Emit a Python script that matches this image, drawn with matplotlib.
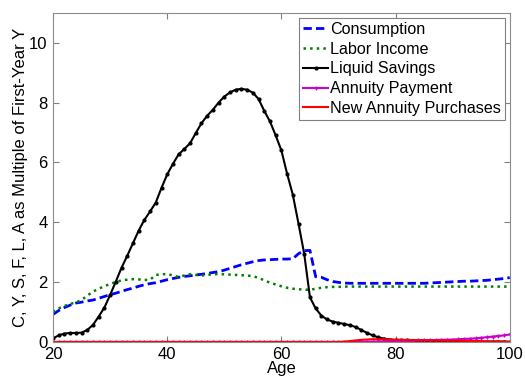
import numpy as np
import matplotlib
matplotlib.use('Agg')
import matplotlib.pyplot as plt

plt.rcParams['font.family'] = ['Liberation Sans', 'DejaVu Sans']

# 年龄 20 到 100，每年一个点
age = np.arange(20, 101)

consumption = [
    0.92, 1.05, 1.15, 1.23, 1.30, 1.33, 1.37, 1.40, 1.46, 1.52,
    1.58, 1.63, 1.69, 1.75, 1.80, 1.86, 1.91, 1.95, 1.98, 2.03,
    2.08, 2.12, 2.16, 2.19, 2.21, 2.24, 2.26, 2.29, 2.32, 2.35,
    2.40, 2.46, 2.52, 2.58, 2.63, 2.68, 2.72, 2.74, 2.75, 2.76,
    2.77, 2.77, 2.78, 2.95, 3.05, 3.06, 2.18, 2.16, 2.08, 2.02,
    1.99, 1.97, 1.96, 1.96, 1.96, 1.96, 1.96, 1.96, 1.96, 1.96,
    1.96, 1.96, 1.96, 1.96, 1.96, 1.96, 1.97, 1.98, 1.99, 2.00,
    2.01, 2.02, 2.03, 2.03, 2.04, 2.05, 2.06, 2.08, 2.10, 2.12,
    2.15]

labor_income = [
    1.00, 1.12, 1.20, 1.27, 1.32, 1.40, 1.55, 1.68, 1.78, 1.86,
    1.94, 2.00, 2.06, 2.08, 2.10, 2.09, 2.07, 2.08, 2.24, 2.26,
    2.27, 2.22, 2.17, 2.22, 2.26, 2.24, 2.22, 2.24, 2.26, 2.27,
    2.26, 2.25, 2.24, 2.23, 2.22, 2.20, 2.14, 2.06, 1.98, 1.92,
    1.86, 1.81, 1.78, 1.76, 1.75, 1.74, 1.78, 1.81, 1.83, 1.84,
    1.84, 1.85, 1.85, 1.85, 1.85, 1.85, 1.85, 1.85, 1.85, 1.85,
    1.85, 1.85, 1.85, 1.85, 1.85, 1.85, 1.85, 1.85, 1.85, 1.85,
    1.85, 1.85, 1.85, 1.85, 1.85, 1.85, 1.85, 1.85, 1.85, 1.85,
    1.85]

liquid_savings = [
    0.12, 0.22, 0.28, 0.30, 0.30, 0.31, 0.40, 0.57, 0.85, 1.15,
    1.57, 2.02, 2.48, 2.88, 3.30, 3.72, 4.08, 4.36, 4.66, 5.15,
    5.60, 5.95, 6.27, 6.45, 6.64, 6.98, 7.31, 7.56, 7.76, 8.00,
    8.20, 8.34, 8.43, 8.46, 8.43, 8.33, 8.12, 7.72, 7.37, 6.90,
    6.40, 5.62, 4.92, 3.95, 2.94, 1.49, 1.12, 0.88, 0.75, 0.68,
    0.64, 0.60, 0.56, 0.50, 0.40, 0.30, 0.22, 0.15, 0.11, 0.08,
    0.06, 0.05, 0.05, 0.04, 0.04, 0.04, 0.03, 0.03, 0.03, 0.03,
    0.02, 0.02, 0.02, 0.02, 0.02, 0.01, 0.01, 0.01, 0.01, 0.01,
    0.00]

annuity_payment = [0.0] * 55 + [
    0.005, 0.01, 0.015, 0.02, 0.025, 0.03, 0.035, 0.04, 0.045, 0.05,
    0.055, 0.06, 0.065, 0.07, 0.075, 0.08, 0.09, 0.10, 0.11, 0.12,
    0.14, 0.16, 0.18, 0.20, 0.22, 0.25]

new_annuity = [0.0] * 51 + [
    0.01, 0.03, 0.05, 0.07, 0.08, 0.09, 0.09, 0.09, 0.08, 0.08,
    0.07, 0.07, 0.06, 0.06, 0.06, 0.05, 0.05, 0.05, 0.04, 0.04,
    0.04, 0.03, 0.03, 0.03, 0.03, 0.02, 0.02, 0.02, 0.01, 0.01]

fig = plt.figure(figsize=(5.25, 3.77), dpi=100)
ax = fig.add_axes([0.101, 0.093, 0.870, 0.873])

ax.plot(age, consumption, '--', color='#0000ff', lw=2.0, dashes=(3, 1.5), label='Consumption')
ax.plot(age, labor_income, ':', color='#008000', lw=1.8, label='Labor Income')
ax.plot(age, liquid_savings, '-', color='black', lw=1.5, marker='.', markersize=4,
        label='Liquid Savings')
ax.plot(age, annuity_payment, '-', color='#cc00cc', lw=1.5, marker='+', markersize=3,
        label='Annuity Payment')
ax.plot(age, new_annuity, '-', color='#ff0000', lw=1.5, label='New Annuity Purchases')

ax.set_xlim(20, 100)
ax.set_ylim(0, 11)
ax.set_xticks([20, 40, 60, 80, 100])
ax.set_yticks([0, 2, 4, 6, 8, 10])
ax.tick_params(direction='in', top=True, right=True, labelsize=12, length=4,
               color='0.5')
ax.tick_params(axis='x', pad=4)
ax.tick_params(axis='y', pad=4)
for s in ax.spines.values():
    s.set_color('0.55')
    s.set_linewidth(0.8)

ax.set_xlabel('Age', fontsize=12, labelpad=-1)
ax.set_ylabel('C, Y, S, F, L, A as Multiple of First-Year Y', fontsize=12, labelpad=1)

leg = ax.legend(loc='upper right', fontsize=11.6, handlelength=1.6, handletextpad=0.1,
                labelspacing=0.3, borderpad=0.25, borderaxespad=0.3, fancybox=False,
                edgecolor='0.5', framealpha=1)
leg.get_frame().set_linewidth(0.8)

fig.savefig('out.png', dpi=100)
